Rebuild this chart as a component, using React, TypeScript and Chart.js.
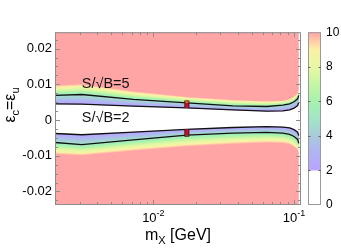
import React, { useEffect, useRef } from 'react';
import { Chart, registerables } from 'chart.js';
Chart.register(...registerables);

// ---- data ----
const massGeV = [0.002, 0.0031, 0.0072, 0.0173, 0.0367, 0.064, 0.0832, 0.093, 0.1, 0.106, 0.108];
const upperLevel10 = [0.00979, 0.01015, 0.00811, 0.00655, 0.00571, 0.00535, 0.00547, 0.00595, 0.00667, 0.00763, 0.00883];
const upperLevel5 = [0.00691, 0.00715, 0.00578, 0.0048, 0.00396, 0.00379, 0.00415, 0.00451, 0.00511, 0.00595, 0.00691];
const upperLevel2 = [0.00451, 0.00444, 0.00391, 0.00338, 0.00283, 0.00247, 0.00259, 0.00283, 0.00331, 0.00403, 0.00499];
const lowerLevel2 = [-0.00377, -0.00413, -0.00341, -0.00261, -0.00209, -0.00185, -0.00197, -0.00221, -0.00269, -0.00341, -0.00437];
const lowerLevel5 = [-0.00629, -0.00689, -0.00557, -0.00425, -0.00365, -0.00348, -0.00365, -0.00401, -0.00461, -0.00545, -0.00653];
const lowerLevel10 = [-0.00964, -0.01, -0.00868, -0.00748, -0.00677, -0.00641, -0.00653, -0.00689, -0.0076, -0.00844, -0.00964];

const markerMass = 0.0173;
const markerUpperRange = [0.00338, 0.0055];
const markerUpperTopRange = [0.00478, 0.0055];
const markerLowerRange = [-0.00465, -0.00258];
const markerLowerBottomRange = [-0.00465, -0.0042];

const xMajorValues = [0.01, 0.1];
const xMajorExponents = ['-2', '-1'];
const xMinorValues = [0.003, 0.004, 0.005, 0.006, 0.007, 0.008, 0.009, 0.02, 0.03, 0.04, 0.05, 0.06, 0.07, 0.08, 0.09];
const yMajorValues = [-0.02, -0.01, 0, 0.01, 0.02];
const yMinorValues = [-0.0225, -0.0175, -0.015, -0.0125, -0.0075, -0.005, -0.0025, 0.0025, 0.005, 0.0075, 0.0125, 0.015, 0.0175, 0.0225];
const colorbarTicks = [0, 2, 4, 6, 8, 10];

const colorLevels = [2, 3, 4, 5, 6, 7, 8, 9, 9.5, 10];
const colorStops = ['#bba2ff', '#b0b4f4', '#a8cadc', '#a2e6c6', '#a6f2b0', '#c6f6a4', '#e8f8a4', '#fbf0a6', '#ffcaa6', '#ffa5a5'];
const saturatedColor = '#ffa5a5';

const contourLabels = ['S/\u221AB=5', 'S/\u221AB=2'];
const contourLabelMass = [0.0031, 0.0031];
const contourLabelEps = [0.009, -0.0006];

const FONT = "'Liberation Sans', Arial, Helvetica, sans-serif";
const FRAME = '#8c8c8c';

function band(ctx: CanvasRenderingContext2D, c: number, yA: number, yB: number, vA: number, vB: number) {
  if (Math.abs(yB - yA) < 0.05) return;
  const g = ctx.createLinearGradient(0, yA, 0, yB);
  const lo = Math.min(vA, vB), hi = Math.max(vA, vB);
  for (let k = 0; k < colorLevels.length; k++) {
    const L = colorLevels[k];
    if (L < lo - 1e-9 || L > hi + 1e-9) continue;
    g.addColorStop((L - vA) / (vB - vA), colorStops[k]);
  }
  ctx.fillStyle = g;
  const top = Math.min(yA, yB), h = Math.abs(yB - yA);
  ctx.fillRect(c, top - 0.3, 1, h + 0.6);
}

const heatPlugin = {
  id: 'heat',
  beforeDatasetsDraw(chart: any) {
    const { ctx, chartArea: a, scales } = chart;
    const x = scales.x, y = scales.y;
    ctx.save();
    ctx.beginPath();
    ctx.rect(a.left, a.top, a.right - a.left, a.bottom - a.top);
    ctx.clip();
    const px = massGeV.map((m) => x.getPixelForValue(m));
    const curves = [upperLevel10, upperLevel5, upperLevel2, lowerLevel2, lowerLevel5, lowerLevel10].map((arr) =>
      arr.map((v) => y.getPixelForValue(v))
    );
    const x0 = px[0], x1 = px[px.length - 1];
    ctx.fillStyle = saturatedColor;
    ctx.fillRect(x0, a.top, x1 - x0, a.bottom - a.top);
    let seg = 0;
    for (let c = Math.floor(x0); c < Math.ceil(x1); c++) {
      const cx = Math.min(Math.max(c + 0.5, x0), x1);
      while (seg < px.length - 2 && cx > px[seg + 1]) seg++;
      const t = (cx - px[seg]) / (px[seg + 1] - px[seg]);
      const ys = curves.map((cy) => cy[seg] + (cy[seg + 1] - cy[seg]) * t);
      const w = Math.min(1, x1 - c);
      ctx.fillStyle = '#ffffff';
      ctx.fillRect(c, ys[2], w, ys[3] - ys[2]);
      band(ctx, c, ys[0], ys[1], 10, 5);
      band(ctx, c, ys[1], ys[2], 5, 2);
      band(ctx, c, ys[3], ys[4], 2, 5);
      band(ctx, c, ys[4], ys[5], 5, 10);
    }
    ctx.restore();
  },
};

const decorPlugin = {
  id: 'decor',
  afterDraw(chart: any) {
    const { ctx, chartArea: a, scales } = chart;
    const x = scales.x, y = scales.y, cb = scales.cb;
    ctx.save();
    ctx.strokeStyle = FRAME;
    ctx.lineWidth = 1;
    ctx.strokeRect(a.left + 0.5, a.top + 0.5, a.right - a.left - 1, a.bottom - a.top - 1);
    const seg = (x1: number, y1: number, x2: number, y2: number) => {
      ctx.beginPath();
      ctx.moveTo(x1, y1);
      ctx.lineTo(x2, y2);
      ctx.stroke();
    };
    for (const v of xMinorValues) {
      const p = Math.round(x.getPixelForValue(v)) + 0.5;
      seg(p, a.bottom, p, a.bottom - 3);
      seg(p, a.top, p, a.top + 3);
    }
    for (const v of xMajorValues) {
      const p = Math.round(x.getPixelForValue(v)) + 0.5;
      seg(p, a.bottom, p, a.bottom - 5);
      seg(p, a.top, p, a.top + 5);
    }
    for (const v of yMinorValues) {
      const p = Math.round(y.getPixelForValue(v)) + 0.5;
      seg(a.left, p, a.left + 3, p);
      seg(a.right, p, a.right - 3, p);
    }
    for (const v of yMajorValues) {
      const p = Math.round(y.getPixelForValue(v)) + 0.5;
      seg(a.left, p, a.left + 5, p);
      seg(a.right, p, a.right - 5, p);
    }

    // colorbar
    const cbL = cb.left + 7, cbR = cb.left + 20;
    const yTop = cb.getPixelForValue(10), y2 = cb.getPixelForValue(2), y0 = cb.getPixelForValue(0);
    const g = ctx.createLinearGradient(0, y2, 0, yTop);
    for (let k = 0; k < colorLevels.length; k++) g.addColorStop((colorLevels[k] - 2) / 8, colorStops[k]);
    ctx.fillStyle = '#ffffff';
    ctx.fillRect(cbL, y2, cbR - cbL, y0 - y2);
    ctx.fillStyle = g;
    ctx.fillRect(cbL, yTop, cbR - cbL, y2 - yTop);
    ctx.strokeStyle = '#9a9a9a';
    ctx.strokeRect(cbL + 0.5, yTop + 0.5, cbR - cbL - 1, y0 - yTop - 1);
    ctx.strokeStyle = '#666';
    for (const v of colorbarTicks) {
      if (v === 0 || v === 10) continue;
      const p = Math.round(cb.getPixelForValue(v)) + 0.5;
      seg(cbL, p, cbL + 2.5, p);
      seg(cbR, p, cbR - 2.5, p);
    }

    // x tick labels with superscripts
    ctx.fillStyle = '#000';
    ctx.textBaseline = 'alphabetic';
    ctx.textAlign = 'left';
    xMajorValues.forEach((v, i) => {
      const p = x.getPixelForValue(v);
      ctx.font = `13px ${FONT}`;
      const wb = ctx.measureText('10').width;
      ctx.font = `9px ${FONT}`;
      const we = ctx.measureText(xMajorExponents[i]).width;
      const s = p - (wb + we) / 2;
      ctx.font = `13px ${FONT}`;
      ctx.fillText('10', s, 222);
      ctx.font = `9px ${FONT}`;
      ctx.fillText(xMajorExponents[i], s + wb, 216);
    });

    const drawRun = (parts: [string, number, number][], cx: number, cy: number) => {
      let w = 0;
      for (const [t, sz] of parts) {
        ctx.font = `${sz}px ${FONT}`;
        w += ctx.measureText(t).width;
      }
      let s = cx - w / 2;
      for (const [t, sz, dy] of parts) {
        ctx.font = `${sz}px ${FONT}`;
        ctx.fillText(t, s, cy + dy);
        s += ctx.measureText(t).width;
      }
    };
    drawRun([['m', 16, 0], ['X', 11, 4], [' [GeV]', 16, 0]], (a.left + a.right) / 2, 240);

    ctx.save();
    ctx.translate(15, 105);
    ctx.rotate(-Math.PI / 2);
    drawRun([['\u03B5', 16, 0], ['c', 11, 4], ['=', 16, 0], ['\u03B5', 16, 0], ['u', 11, 4]], 0, 0);
    ctx.restore();

    ctx.font = `14.5px ${FONT}`;
    ctx.fillStyle = '#111';
    contourLabels.forEach((t, i) => {
      ctx.fillText(t, x.getPixelForValue(contourLabelMass[i]), y.getPixelForValue(contourLabelEps[i]));
    });
    ctx.restore();
  },
};

function pts(ys: number[]) {
  return massGeV.map((m, i) => ({ x: m, y: ys[i] }));
}
function vbar(range: number[]) {
  return [{ x: markerMass, y: range[0] }, { x: markerMass, y: range[1] }];
}

export default function App() {
  const ref = useRef<HTMLCanvasElement>(null);
  useEffect(() => {
    if (!ref.current) return;
    Chart.defaults.font.family = FONT;
    const line = (data: any, color: string, width: number) => ({
      type: 'line',
      data,
      borderColor: color,
      borderWidth: width,
      pointRadius: 0,
      tension: 0,
      fill: false,
      borderCapStyle: 'butt',
    });
    const chart = new Chart(ref.current, {
      type: 'line',
      data: {
        datasets: [
          line(vbar(markerUpperTopRange), '#d2641e', 3.2),
          line(vbar(markerLowerBottomRange), '#5a5a22', 3.2),
          line(vbar(markerUpperRange), '#c4102e', 3.2),
          line(vbar(markerLowerRange), '#c4102e', 3.2),
          line(vbar(markerUpperRange), '#3a1010', 5),
          line(vbar(markerLowerRange), '#3a1010', 5),
          line(pts(upperLevel5), '#111', 1.3),
          line(pts(upperLevel2), '#111', 1.3),
          line(pts(lowerLevel2), '#111', 1.3),
          line(pts(lowerLevel5), '#111', 1.3),
        ] as any,
      },
      options: {
        animation: false,
        responsive: false,
        layout: { padding: { top: 3, left: 0, right: 0, bottom: 0 } },
        plugins: { legend: { display: false }, tooltip: { enabled: false } },
        events: [],
        scales: {
          x: {
            type: 'logarithmic',
            min: 0.002,
            max: 0.112,
            ticks: { display: false },
            grid: { display: false, drawTicks: false },
            border: { display: false },
            afterFit: (s: any) => {
              s.height = 44;
            },
          },
          y: {
            type: 'linear',
            position: 'left',
            min: -0.0238,
            max: 0.0246,
            afterBuildTicks: (s: any) => {
              s.ticks = yMajorValues.map((v) => ({ value: v }));
            },
            ticks: {
              font: { size: 13, family: FONT },
              color: '#000',
              padding: 3,
              callback: (v: any) => (Math.abs(v) < 1e-12 ? '0' : String(+Number(v).toFixed(2))),
            },
            grid: { display: false, drawTicks: false },
            border: { display: false },
            afterFit: (s: any) => {
              s.width = 55;
            },
          },
          cb: {
            type: 'linear',
            position: 'right',
            min: 0,
            max: 10,
            afterBuildTicks: (s: any) => {
              s.ticks = colorbarTicks.map((v) => ({ value: v }));
            },
            ticks: { font: { size: 12, family: FONT }, color: '#000', padding: 25 },
            grid: { display: false, drawTicks: false },
            border: { display: false },
            afterFit: (s: any) => {
              s.width = 40;
            },
          },
        },
      } as any,
      plugins: [heatPlugin, decorPlugin],
    });
    return () => chart.destroy();
  }, []);
  return (
    <div style={{ position: 'fixed', left: 0, top: 0, width: 341, height: 249, background: '#fff' }}>
      <canvas ref={ref} width={341} height={249} style={{ display: 'block' }} />
    </div>
  );
}
